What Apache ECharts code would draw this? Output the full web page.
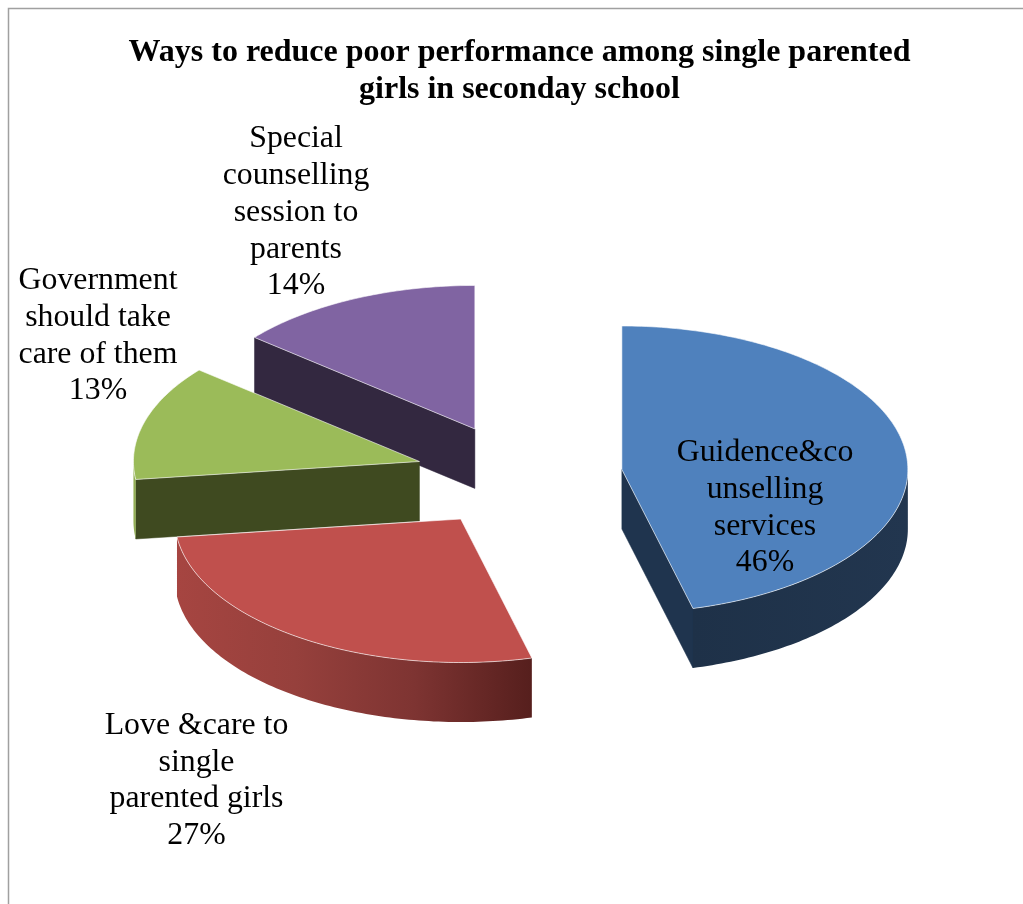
<!DOCTYPE html>
<html>
<head>
<meta charset="utf-8">
<style>html,body{margin:0;padding:0;background:#fff}#c{width:1023px;height:904px}</style>
<script src="https://cdn.jsdelivr.net/npm/echarts@6/dist/echarts.min.js"></script>
</head>
<body>
<div id="c"></div>
<script>
const titleText = 'Ways to reduce poor performance among single parented\ngirls in seconday school';
const categories = ['Guidence&co\nunselling\nservices', 'Love &care to\nsingle\nparented girls', 'Government\nshould take\ncare of them', 'Special\ncounselling\nsession to\nparents'];
const values = [46, 27, 13, 14];

const topColors = ['#4F81BD', '#C0504D', '#9BBB59', '#8064A2'];
const faceColors = ['#1F344E', '#4F1D1B', '#3F4A20', '#332840'];
const wallStops = [
  ['#1E3148', '#22364F'],
  ['#A64541', '#96403C', '#7E3432', '#561F1D'],
  ['#93AF55', '#93AF55'],
  ['#332840', '#332840']
];
const labelCenters = [[765, 508], [196.5, 780.5], [98, 336], [296, 212.5]];

const geo = { cx: 519, cy: 476, rx: 286, ry: 143.5, depth: 59.5, explode: 0.3625 };
const total = values.reduce((a, b) => a + b, 0);
const toRad = d => d * Math.PI / 180;

function arcPoints(cx, cy, a, b, dy) {
  const pts = [];
  const n = Math.max(2, Math.ceil(b - a));
  for (let i = 0; i <= n; i++) {
    const t = toRad(a + (b - a) * i / n);
    pts.push([cx + geo.rx * Math.sin(t), cy - geo.ry * Math.cos(t) + dy]);
  }
  return pts;
}

function renderItem(params, api) {
  const idx = api.value(1);
  const val = api.value(0);
  let start = 0;
  for (let i = 0; i < idx; i++) start += values[i];
  const a = start / total * 360;
  const b = (start + val) / total * 360;
  const m = toRad((a + b) / 2);
  const cx = geo.cx + geo.explode * geo.rx * Math.sin(m);
  const cy = geo.cy - geo.explode * geo.ry * Math.cos(m);
  const children = [];
  const d = geo.depth;
  const face = (t) => {
    const r = toRad(t);
    const x = cx + geo.rx * Math.sin(r), y = cy - geo.ry * Math.cos(r);
    children.push({ type: 'polygon', shape: { points: [[cx, cy], [x, y], [x, y + d], [cx, cy + d]] },
      style: { fill: faceColors[idx], stroke: faceColors[idx], lineWidth: 0.5 } });
  };
  if (Math.sin(toRad(b)) > 0.01) face(b);
  if (Math.sin(toRad(a)) < -0.01) face(a);
  const wa = Math.max(a, 90), wb = Math.min(b, 270);
  if (wb > wa) {
    const upper = arcPoints(cx, cy, wa, wb, 0);
    const lower = arcPoints(cx, cy, wa, wb, d).reverse();
    const stops = wallStops[idx];
    children.push({ type: 'polygon', shape: { points: upper.concat(lower) },
      style: { fill: { type: 'linear', x: 0, y: 0, x2: 1, y2: 0,
        colorStops: stops.map((c, i) => ({ offset: i / (stops.length - 1), color: c })) } } });
  }
  children.push({ type: 'polygon', shape: { points: [[cx, cy]].concat(arcPoints(cx, cy, a, b, 0)) },
    style: { fill: topColors[idx], stroke: 'rgba(255,255,255,0.6)', lineWidth: 1, lineJoin: 'round' } });
  children.push({ type: 'text', z2: 100, style: {
    x: labelCenters[idx][0], y: labelCenters[idx][1],
    text: categories[idx] + '\n' + val + '%',
    font: '31.8px "Liberation Serif"', lineHeight: 36.7,
    fill: '#000', align: 'center', verticalAlign: 'middle' } });
  return { type: 'group', children };
}

const drawOrder = values.map((v, i) => [v, i]).reverse();

const chart = echarts.init(document.getElementById('c'), null, { renderer: 'canvas' });
chart.setOption({
  animation: false,
  backgroundColor: '#fff',
  title: {
    text: titleText, left: 514.5, top: 29, textAlign: 'center',
    textStyle: { fontFamily: 'Liberation Serif', fontWeight: 'bold', fontSize: 32, lineHeight: 37, color: '#000' }
  },
  graphic: [{ type: 'polyline', silent: true, shape: { points: [[8.5, 904], [8.5, 8.5], [1023, 8.5]] },
    style: { stroke: '#A0A0A0', lineWidth: 1.5, fill: null } }],
  series: [{ type: 'custom', coordinateSystem: 'none', renderItem, data: drawOrder, clip: false }]
});
</script>
</body>
</html>
